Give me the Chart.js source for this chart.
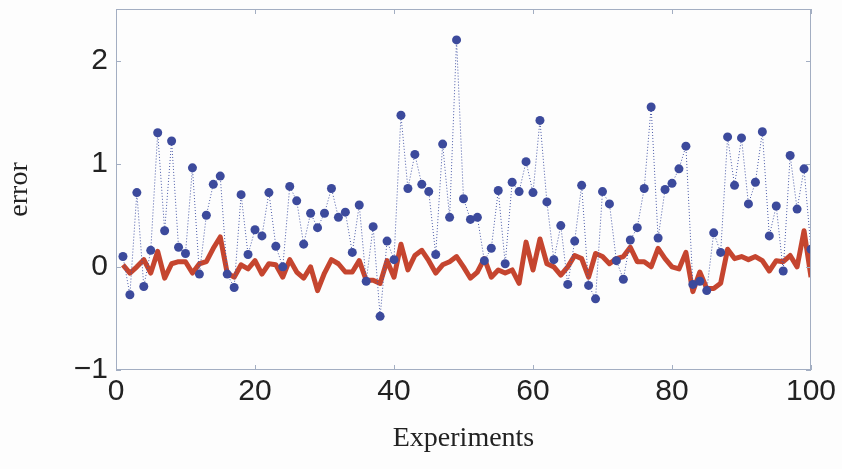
<!DOCTYPE html>
<html>
<head>
<meta charset="utf-8">
<script src="https://cdn.jsdelivr.net/npm/chart.js@4.4.0/dist/chart.umd.min.js"></script>
<style>
  html, body { margin: 0; padding: 0; background: #fdfdfd; }
  #wrap { width: 842px; height: 469px; }
</style>
</head>
<body>
<div id="wrap"><canvas id="errChart" width="842" height="469"></canvas></div>
<script>
// error of each experiment (dots) and the filtered error (thick line)
const experiments = Array.from({ length: 100 }, (_, i) => i + 1);

const rawError = [
  0.10, -0.27, 0.72, -0.19, 0.16, 1.30, 0.35, 1.22, 0.19, 0.13,
  0.96, -0.07, 0.50, 0.80, 0.88, -0.07, -0.20, 0.70, 0.12, 0.36,
  0.30, 0.72, 0.20, 0.00, 0.78, 0.64, 0.22, 0.52, 0.38, 0.52,
  0.76, 0.48, 0.53, 0.14, 0.60, -0.14, 0.39, -0.48, 0.25, 0.07,
  1.47, 0.76, 1.09, 0.80, 0.73, 0.12, 1.19, 0.48, 2.20, 0.66,
  0.46, 0.48, 0.06, 0.18, 0.74, 0.03, 0.82, 0.73, 1.02, 0.72,
  1.42, 0.63, 0.07, 0.40, -0.17, 0.25, 0.79, -0.18, -0.31, 0.73,
  0.61, 0.06, -0.12, 0.26, 0.38, 0.76, 1.55, 0.28, 0.75, 0.81,
  0.95, 1.17, -0.17, -0.14, -0.23, 0.33, 0.14, 1.26, 0.79, 1.25,
  0.61, 0.82, 1.31, 0.30, 0.59, -0.04, 1.08, 0.56, 0.95, 0.17
];

const filteredError = [
  0.02, -0.06, 0.00, 0.07, -0.06, 0.15, -0.11, 0.03, 0.05, 0.05,
  -0.06, 0.03, 0.05, 0.18, 0.29, -0.06, -0.10, 0.02, -0.02, 0.06,
  -0.07, 0.03, 0.02, -0.10, 0.07, -0.05, -0.11, 0.00, -0.23, -0.06,
  0.07, 0.03, -0.05, -0.05, 0.06, -0.13, -0.13, -0.16, 0.06, -0.10,
  0.22, -0.03, 0.11, 0.16, 0.06, -0.06, 0.02, 0.05, 0.10, 0.00,
  -0.11, -0.05, 0.08, -0.10, -0.03, -0.06, -0.03, -0.16, 0.24, -0.03,
  0.27, 0.03, 0.00, -0.08, 0.00, 0.11, 0.08, -0.10, 0.13, 0.10,
  0.03, 0.08, 0.10, 0.19, 0.05, 0.05, 0.00, 0.18, 0.08, 0.00,
  -0.02, 0.14, -0.24, -0.05, -0.21, -0.21, -0.16, 0.17, 0.08, 0.10,
  0.07, 0.10, 0.06, -0.04, 0.06, 0.05, 0.11, 0.00, 0.35, -0.10
];

const xTicks = [0, 20, 40, 60, 80, 100];
const yTicks = [-1, 0, 1, 2];

const boxColor = '#a3aec2';

// box around the plot + ticks pointing inward (matlab style)
const innerTicks = {
  id: 'innerTicks',
  afterDraw(chart) {
    const { ctx, chartArea: a, scales } = chart;
    const len = 5;
    ctx.save();
    ctx.strokeStyle = boxColor;
    ctx.lineWidth = 1;
    ctx.strokeRect(a.left + 0.5, a.top + 0.5, a.right - a.left - 1, a.bottom - a.top - 1);
    ctx.beginPath();
    xTicks.forEach(v => {
      const px = Math.round(scales.x.getPixelForValue(v)) + 0.5;
      ctx.moveTo(px, a.bottom); ctx.lineTo(px, a.bottom - len);
      ctx.moveTo(px, a.top); ctx.lineTo(px, a.top + len);
    });
    yTicks.forEach(v => {
      const py = Math.round(scales.y.getPixelForValue(v)) + 0.5;
      ctx.moveTo(a.left, py); ctx.lineTo(a.left + len, py);
      ctx.moveTo(a.right, py); ctx.lineTo(a.right - len, py);
    });
    ctx.stroke();
    ctx.restore();
  }
};

const ctx = document.getElementById('errChart').getContext('2d');

const chart = new Chart(ctx, {
  type: 'line',
  data: {
    datasets: [
      {
        label: 'error',
        data: experiments.map((x, i) => ({ x: x, y: rawError[i] })),
        borderColor: '#4a5aa8',
        borderWidth: 1,
        borderDash: [1, 2],
        pointRadius: 4.5,
        pointBackgroundColor: '#3c4a9c',
        pointBorderColor: '#3c4a9c',
        pointBorderWidth: 0,
        tension: 0,
        order: 1
      },
      {
        label: 'filtered',
        data: experiments.map((x, i) => ({ x: x, y: filteredError[i] })),
        borderColor: '#c5452f',
        borderWidth: 5,
        pointRadius: 0,
        tension: 0,
        borderJoinStyle: 'round',
        order: 2
      }
    ]
  },
  options: {
    responsive: false,
    animation: false,
    layout: { padding: { top: 9, right: 31, left: 0, bottom: 0 } },
    plugins: {
      legend: { display: false },
      tooltip: { enabled: false }
    },
    scales: {
      x: {
        type: 'linear',
        min: 0,
        max: 100,
        afterBuildTicks: s => { s.ticks = xTicks.map(v => ({ value: v })); },
        afterFit: s => { s.height = 99; },
        grid: { display: false, drawTicks: false },
        border: { display: false },
        ticks: {
          padding: 4,
          color: '#222',
          font: { family: '"Liberation Sans", Arial, sans-serif', size: 30 },
          maxRotation: 0
        },
        title: {
          display: true,
          text: 'Experiments',
          color: '#222',
          font: { family: '"Liberation Serif", "Times New Roman", serif', size: 28 },
          padding: { top: 0, bottom: 14 }
        }
      },
      y: {
        min: -1,
        max: 2.5,
        afterBuildTicks: s => { s.ticks = yTicks.map(v => ({ value: v })); },
        afterFit: s => {
          s.width = 116;
          // labels never sit at the very top/bottom, so no extra room needed
          s.paddingTop = 0;
          s.paddingBottom = 0;
        },
        grid: { display: false, drawTicks: false },
        border: { display: false },
        ticks: {
          padding: 8,
          color: '#222',
          font: { family: '"Liberation Sans", Arial, sans-serif', size: 30 },
          callback: v => String(v).replace('-', '\u2212')
        },
        title: {
          display: true,
          text: 'error',
          color: '#222',
          font: { family: '"Liberation Serif", "Times New Roman", serif', size: 28 },
          padding: { top: 3, bottom: 0 }
        }
      }
    }
  },
  plugins: [innerTicks]
});
</script>
</body>
</html>
